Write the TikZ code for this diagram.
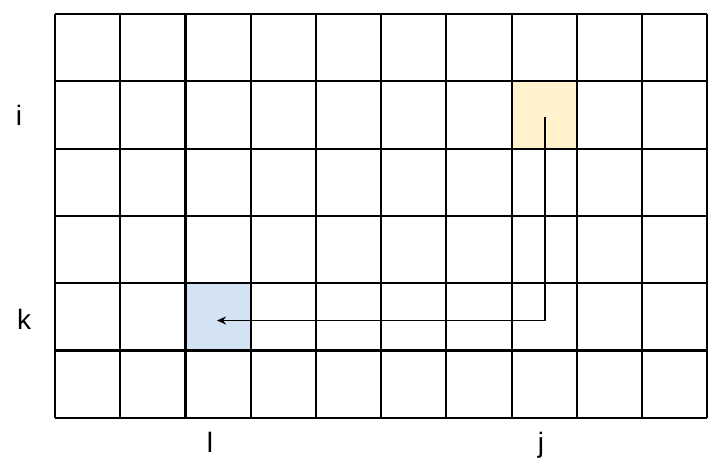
\documentclass[tikz,border=0pt]{standalone}
\usepackage{fontspec}
\setmainfont{Liberation Sans}
\usetikzlibrary{arrows.meta}
\definecolor{cellyellow}{HTML}{FFF2CC}
\definecolor{cellblue}{HTML}{D4E3F3}
\tikzset{
  gridline/.style={line width=2.2pt, black},
  cellbox/.style={draw=none, minimum width=65.2pt, minimum height=67.3pt, inner sep=0pt, outer sep=0pt},
  axislabel/.style={font=\fontsize{28}{30}\selectfont, inner sep=0pt, anchor=base},
  link/.style={line width=1.8pt, -{Stealth[length=9pt,width=8pt]}}
}
\begin{document}
\begin{tikzpicture}[x=1pt,y=1pt]
\useasboundingbox (0,0) rectangle (718,-467);
% coloured cells
\node[cellbox, fill=cellyellow] (ycell) at ({55+7.5*65.23},{-(14+1.5*67.3)}) {};
\node[cellbox, fill=cellblue] (bcell) at ({55+2.5*65.23},{-(14+4.5*67.3)}) {};
% grid
\foreach \c in {0,...,10} {
  \draw[gridline] ({55+\c*65.23},-14) -- ({55+\c*65.23},-417.8);
}
\foreach \r in {0,...,6} {
  \draw[gridline] (55,{-(14+\r*67.3)}) -- (707.3,{-(14+\r*67.3)});
}
% labels
\node[axislabel] (li) at (19,-125) {i};
\node[axislabel] (lk) at (24,-329) {k};
\node[axislabel] (ll) at (210,-452) {l};
\node[axislabel] (lj) at (541,-452) {j};
% arrow
\coordinate (start) at (545.3,-116.5);
\coordinate (bend) at (545.3,-320.5);
\coordinate (stop) at (217,-320.5);
\draw[link] (start) -- (bend) -- (stop);
\end{tikzpicture}
\end{document}
